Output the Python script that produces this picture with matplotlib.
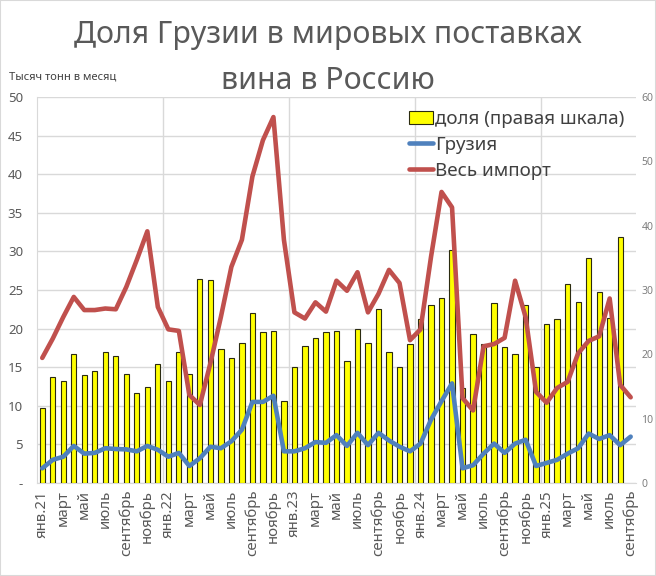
import matplotlib
matplotlib.use('Agg')
import matplotlib.pyplot as plt
import numpy as np
from matplotlib.patches import Rectangle

plt.rcParams['font.family'] = ['Noto Sans', 'DejaVu Sans']

# monthly data, Jan 2021 .. Sep 2025
months = ['янв.21', 'фев', 'март', 'апр', 'май', 'июнь', 'июль', 'авг', 'сентябрь', 'окт', 'ноябрь', 'дек',
          'янв.22', 'фев', 'март', 'апр', 'май', 'июнь', 'июль', 'авг', 'сентябрь', 'окт', 'ноябрь', 'дек',
          'янв.23', 'фев', 'март', 'апр', 'май', 'июнь', 'июль', 'авг', 'сентябрь', 'окт', 'ноябрь', 'дек',
          'янв.24', 'фев', 'март', 'апр', 'май', 'июнь', 'июль', 'авг', 'сентябрь', 'окт', 'ноябрь', 'дек',
          'янв.25', 'фев', 'март', 'апр', 'май', 'июнь', 'июль', 'авг', 'сентябрь']

# share of Georgia, % (right scale); no bar for the last month
share = [11.7, 16.5, 15.8, 20.1, 16.8, 17.4, 20.3, 19.7, 16.9, 14.0, 14.9, 18.5,
         15.9, 20.4, 16.9, 31.7, 31.5, 20.8, 19.4, 21.7, 26.4, 23.4, 23.7, 12.8,
         18.1, 21.3, 22.6, 23.5, 23.6, 18.9, 23.9, 21.8, 27.1, 20.3, 18.1, 21.6,
         25.5, 27.6, 28.7, 36.2, 14.7, 23.1, 21.6, 27.9, 21.2, 20.0, 27.6, 18.0,
         24.7, 25.5, 30.9, 28.1, 34.9, 29.7, 25.7, 38.3, np.nan]

# Georgia, thousand tonnes per month
georgia = [1.9, 3.0, 3.4, 4.8, 3.8, 3.9, 4.5, 4.4, 4.35, 4.1, 4.8, 4.3,
           3.4, 3.9, 2.2, 3.2, 4.7, 4.5, 5.4, 6.9, 10.5, 10.5, 11.3, 4.1,
           4.1, 4.5, 5.3, 5.2, 6.2, 4.8, 6.5, 4.9, 6.5, 5.5, 4.7, 4.1,
           5.1, 8.2, 10.6, 12.9, 1.9, 2.3, 3.8, 5.1, 3.9, 5.1, 5.6, 2.2,
           2.6, 3.0, 3.8, 4.5, 6.4, 5.7, 6.2, 4.9, 6.0]

# total wine imports, thousand tonnes per month
total = [16.2, 18.7, 21.5, 24.1, 22.4, 22.4, 22.6, 22.5, 25.4, 28.9, 32.6, 22.8,
         19.9, 19.7, 11.4, 10.1, 15.5, 21.5, 28.0, 31.5, 39.7, 44.4, 47.4, 31.5,
         22.1, 21.3, 23.4, 22.2, 26.2, 24.9, 27.3, 22.1, 24.5, 27.6, 25.9, 18.5,
         19.9, 29.3, 37.7, 35.7, 11.0, 9.4, 17.7, 18.0, 18.8, 26.2, 21.5, 11.8,
         10.4, 12.3, 13.1, 16.8, 18.4, 19.0, 23.9, 12.7, 11.1]

grey = '#595959'
x = np.arange(len(months))

fig = plt.figure(figsize=(6.56, 5.76), dpi=100)
fig.patches.append(Rectangle((0, 0), 1, 1, transform=fig.transFigure,
                             fill=False, edgecolor='#d9d9d9', lw=1.5))

ax = fig.add_axes([0.0564, 0.1615, 0.913, 0.6701])
ax_bar = ax.twinx()
ax_line = ax.twinx()

# base axes: left scale, grid, x labels
ax.set_xlim(-0.5, len(months) - 0.5)
ax.set_ylim(0, 50)
ax.set_yticks(np.arange(0, 51, 5))
ax.set_yticklabels(['-'] + [str(v) for v in range(5, 51, 5)])
ax.grid(axis='y', color='#d9d9d9', lw=1)
ax.set_xticks(np.arange(11.5, len(months), 12), minor=True)
ax.grid(axis='x', which='minor', color='#d9d9d9', lw=1)
ax.set_xticks(x[::2])
ax.set_xticklabels(months[::2], rotation=90)
ax.tick_params(axis='x', which='both', length=0, labelsize=10.8, colors=grey, pad=5)
ax.tick_params(axis='y', length=0, labelsize=9.5, colors=grey, pad=10)
for s in ['top', 'right']:
    ax.spines[s].set_visible(False)
ax.spines['left'].set_color('#d9d9d9')
ax.spines['bottom'].set_color('#d9d9d9')

# bars on right scale
bars = ax_bar.bar(x, share, width=0.5, color='#ffff00', edgecolor='#2b2b10', lw=0.8,
                  label='доля (правая шкала)')
ax_bar.set_ylim(0, 60)
ax_bar.set_yticks(np.arange(0, 61, 10))
ax_bar.tick_params(axis='y', length=0, labelsize=7.5, colors='#7f7f7f', pad=4)
for s in ax_bar.spines.values():
    s.set_visible(False)

# lines on left scale
l1, = ax_line.plot(x, georgia, color='#4f81bd', lw=3.3, solid_joinstyle='round',
                   solid_capstyle='round', label='Грузия')
l2, = ax_line.plot(x, total, color='#c0504d', lw=3.3, solid_joinstyle='round',
                   solid_capstyle='round', label='Весь импорт')
ax_line.set_ylim(0, 50)
ax_line.set_yticks([])
for s in ax_line.spines.values():
    s.set_visible(False)

leg = ax_line.legend(handles=[bars, l1, l2], loc='upper right',
                     bbox_to_anchor=(1.0, 0.995), frameon=False, fontsize=13.5,
                     handlelength=1.3, handletextpad=0.1, labelspacing=0.42,
                     borderaxespad=0.2)
for t in leg.get_texts():
    t.set_color('#404040')

fig.text(0.5, 1 - 43 / 576, 'Доля Грузии в мировых поставках',
         ha='center', va='baseline', fontsize=21.8, color=grey)
fig.text(0.5, 1 - 89 / 576, 'вина в Россию',
         ha='center', va='baseline', fontsize=21.8, color=grey)
fig.text(9 / 656, 1 - 77 / 576, 'Тысяч тонн в месяц', ha='left', va='center',
         fontsize=8, color='#404040')

fig.savefig('out.png', dpi=100)
